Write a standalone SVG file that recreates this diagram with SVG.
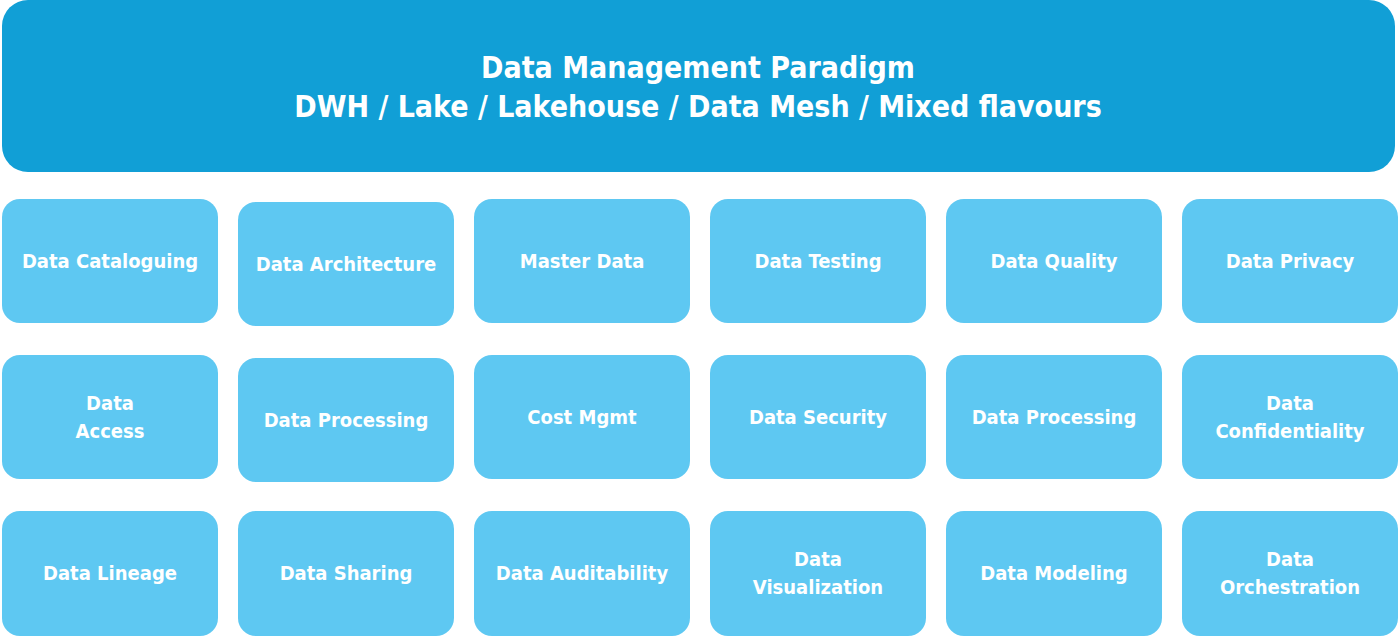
<svg xmlns="http://www.w3.org/2000/svg" width="1400" height="637" viewBox="0 0 1400 637">
<style>
.top{fill:#119fd6}
.box{fill:#5ec8f2}
text{font-family:"DejaVu Sans Condensed","DejaVu Sans",sans-serif;fill:#fff;text-anchor:middle;font-weight:bold}
.t{font-size:30px}
.b{font-size:20px}
</style>
<rect width="1400" height="637" fill="#fff"/>
<g id="header"><rect class="top" x="2" y="0" width="1393" height="172" rx="26"/>
<text class="t" x="698" y="78">Data Management Paradigm</text>
<text class="t" x="698" y="117">DWH / Lake / Lakehouse / Data Mesh / Mixed flavours</text></g>
<g id="n1"><rect class="box" x="2" y="199" width="216" height="124" rx="18"/><text class="b" x="110" y="268">Data Cataloguing</text></g>
<g id="n2"><rect class="box" x="238" y="202" width="216" height="124" rx="18"/><text class="b" x="346" y="271">Data Architecture</text></g>
<g id="n3"><rect class="box" x="474" y="199" width="216" height="124" rx="18"/><text class="b" x="582" y="268">Master Data</text></g>
<g id="n4"><rect class="box" x="710" y="199" width="216" height="124" rx="18"/><text class="b" x="818" y="268">Data Testing</text></g>
<g id="n5"><rect class="box" x="946" y="199" width="216" height="124" rx="18"/><text class="b" x="1054" y="268">Data Quality</text></g>
<g id="n6"><rect class="box" x="1182" y="199" width="216" height="124" rx="18"/><text class="b" x="1290" y="268">Data Privacy</text></g>
<g id="n7"><rect class="box" x="2" y="355" width="216" height="124" rx="18"/><text class="b" x="110" y="410">Data</text><text class="b" x="110" y="438">Access</text></g>
<g id="n8"><rect class="box" x="238" y="358" width="216" height="124" rx="18"/><text class="b" x="346" y="427">Data Processing</text></g>
<g id="n9"><rect class="box" x="474" y="355" width="216" height="124" rx="18"/><text class="b" x="582" y="424">Cost Mgmt</text></g>
<g id="n10"><rect class="box" x="710" y="355" width="216" height="124" rx="18"/><text class="b" x="818" y="424">Data Security</text></g>
<g id="n11"><rect class="box" x="946" y="355" width="216" height="124" rx="18"/><text class="b" x="1054" y="424">Data Processing</text></g>
<g id="n12"><rect class="box" x="1182" y="355" width="216" height="124" rx="18"/><text class="b" x="1290" y="410">Data</text><text class="b" x="1290" y="438">Confidentiality</text></g>
<g id="n13"><rect class="box" x="2" y="511" width="216" height="125" rx="18"/><text class="b" x="110" y="580">Data Lineage</text></g>
<g id="n14"><rect class="box" x="238" y="511" width="216" height="125" rx="18"/><text class="b" x="346" y="580">Data Sharing</text></g>
<g id="n15"><rect class="box" x="474" y="511" width="216" height="125" rx="18"/><text class="b" x="582" y="580">Data Auditability</text></g>
<g id="n16"><rect class="box" x="710" y="511" width="216" height="125" rx="18"/><text class="b" x="818" y="566">Data</text><text class="b" x="818" y="594">Visualization</text></g>
<g id="n17"><rect class="box" x="946" y="511" width="216" height="125" rx="18"/><text class="b" x="1054" y="580">Data Modeling</text></g>
<g id="n18"><rect class="box" x="1182" y="511" width="216" height="125" rx="18"/><text class="b" x="1290" y="566">Data</text><text class="b" x="1290" y="594">Orchestration</text></g>
<g id="connectors"/>
</svg>
